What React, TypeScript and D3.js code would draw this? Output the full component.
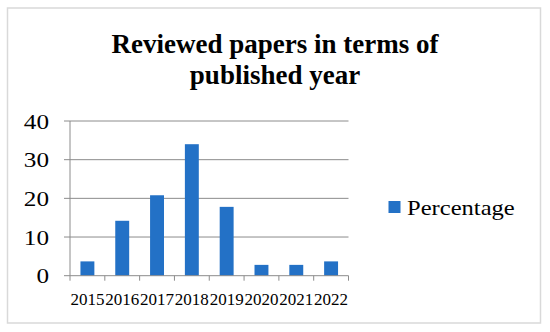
import { useEffect, useRef } from "react";
import * as d3 from "d3";

const years = ["2015", "2016", "2017", "2018", "2019", "2020", "2021", "2022"];
const percentage = [3.7, 14.2, 20.8, 34, 17.8, 2.8, 2.8, 3.7];
const yTicks = [0, 10, 20, 30, 40];
const titleLines = ["Reviewed papers in terms of", "published year"];
const seriesName = "Percentage";

export default function App() {
  const ref = useRef<SVGSVGElement | null>(null);

  useEffect(() => {
    const el = ref.current;
    if (!el) return;
    const svg = d3.select(el);
    svg.selectAll("*").remove();

    const width = 550;
    const height = 332;
    const font = "'Liberation Serif', 'Times New Roman', serif";
    const blue = "#2371c6";

    svg.append("rect").attr("width", width).attr("height", height).attr("fill", "#fff");

    // outer chart frame
    svg
      .append("rect")
      .attr("x", 7.5)
      .attr("y", 8)
      .attr("width", 533)
      .attr("height", 315)
      .attr("fill", "#fff")
      .attr("stroke", "#d9d9d9")
      .attr("stroke-width", 1.5);

    const title = svg
      .append("text")
      .attr("text-anchor", "middle")
      .attr("font-family", font)
      .attr("font-weight", "bold")
      .attr("font-size", 27)
      .attr("fill", "#000");
    titleLines.forEach((line, i) => {
      title
        .append("tspan")
        .attr("x", 275)
        .attr("y", 52.5 + i * 31.5)
        .text(line);
    });

    const x = d3.scaleBand().domain(years).range([70, 348.5]).paddingInner(0).paddingOuter(0);
    const y = d3.scaleLinear().domain([0, 40]).range([275.7, 121]);
    const barW = x.bandwidth() / 2.5;

    // gridlines
    svg
      .append("g")
      .selectAll("line")
      .data(yTicks.filter((t) => t > 0))
      .join("line")
      .attr("x1", 70)
      .attr("x2", 348.5)
      .attr("y1", (d) => y(d))
      .attr("y2", (d) => y(d))
      .attr("stroke", "#8c8c8c")
      .attr("stroke-width", 1);

    // y axis
    svg
      .append("line")
      .attr("x1", 70)
      .attr("x2", 70)
      .attr("y1", y(40))
      .attr("y2", y(0))
      .attr("stroke", "#8c8c8c");
    svg
      .append("g")
      .selectAll("line")
      .data(yTicks)
      .join("line")
      .attr("x1", 64)
      .attr("x2", 70)
      .attr("y1", (d) => y(d))
      .attr("y2", (d) => y(d))
      .attr("stroke", "#8c8c8c");
    svg
      .append("g")
      .selectAll("text")
      .data(yTicks)
      .join("text")
      .attr("transform", (d) => `translate(49,${y(d) + 7.5}) scale(1.2,1)`)
      .attr("text-anchor", "end")
      .attr("font-family", font)
      .attr("font-size", 21)
      .attr("fill", "#000")
      .text((d) => d);

    // bars
    svg
      .append("g")
      .selectAll("rect")
      .data(percentage)
      .join("rect")
      .attr("x", (_, i) => (x(years[i]) as number) + (x.bandwidth() - barW) / 2)
      .attr("y", (d) => y(d))
      .attr("width", barW)
      .attr("height", (d) => y(0) - y(d))
      .attr("fill", blue);

    // x axis
    svg
      .append("line")
      .attr("x1", 70)
      .attr("x2", 348.5)
      .attr("y1", y(0))
      .attr("y2", y(0))
      .attr("stroke", "#8c8c8c");
    const tickX = years.map((yr) => x(yr) as number).concat([348.5]);
    svg
      .append("g")
      .selectAll("line")
      .data(tickX)
      .join("line")
      .attr("x1", (d) => d)
      .attr("x2", (d) => d)
      .attr("y1", y(0))
      .attr("y2", y(0) + 5)
      .attr("stroke", "#8c8c8c");
    svg
      .append("g")
      .selectAll("text")
      .data(years)
      .join("text")
      .attr("x", (d) => (x(d) as number) + x.bandwidth() / 2)
      .attr("y", 305)
      .attr("text-anchor", "middle")
      .attr("font-family", font)
      .attr("font-size", 17)
      .attr("fill", "#000")
      .text((d) => d);

    // legend
    svg
      .append("rect")
      .attr("x", 388.5)
      .attr("y", 201)
      .attr("width", 12)
      .attr("height", 12)
      .attr("fill", blue);
    svg
      .append("text")
      .attr("transform", "translate(407,215) scale(1.17,1)")
      .attr("font-family", font)
      .attr("font-size", 21)
      .attr("fill", "#000")
      .text(seriesName);
  }, []);

  return (
    <svg
      ref={ref}
      width={550}
      height={332}
      style={{ position: "absolute", left: 0, top: 0, display: "block" }}
    />
  );
}
